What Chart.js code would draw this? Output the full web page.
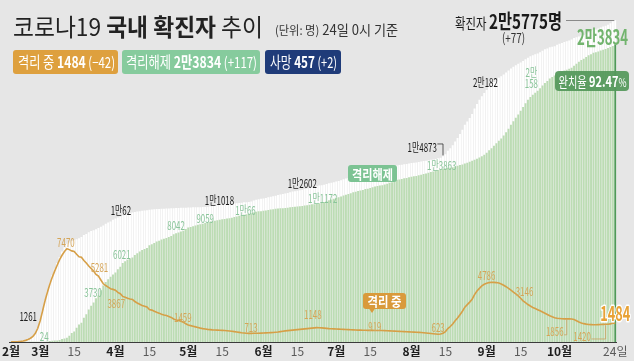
<!DOCTYPE html>
<html><head><meta charset="utf-8">
<script src="https://cdn.jsdelivr.net/npm/chart.js@4"></script>
<style>html,body{margin:0;padding:0;background:#e6e6e6;}canvas{display:block;}</style>
</head><body>
<canvas id="c" width="634" height="361"></canvas>
<script>
// ---- categories: one per day, 2020-02-18 .. 2020-10-24 ----
const categories = [];
(function(){ const d = new Date(2020,1,18), end = new Date(2020,9,24);
  while (d <= end) { categories.push((d.getMonth()+1)+'/'+d.getDate()); d.setDate(d.getDate()+1); } })();

// ---- series ----
const confirmed = [
 22,31,37,47,68,100,153,225,332,484,735,1140,
 1741,2552,3358,4073,4773,5350,5862,6330,6817,7251,7598,7869,7979,8086,8162,8236,8320,8413,8565,8652,8799,8897,8961,9037,9137,9241,9332,9478,9583,9661,9786,
 9887,9976,10062,10156,10237,10284,10331,10384,10423,10450,10480,10512,10537,10564,10591,10613,10635,10653,10661,10674,10683,10694,10702,10708,10718,10728,10738,10752,10761,10765,
 10774,10780,10793,10801,10804,10806,10810,10822,10840,10874,10909,10936,10962,10991,11018,11037,11050,11065,11078,11110,11122,11142,11165,11190,11206,11225,11265,11344,11402,11441,11468,
 11503,11541,11590,11629,11668,11719,11776,11814,11852,11902,11947,12003,12051,12085,12121,12155,12198,12257,12306,12373,12421,12438,12484,12535,12563,12602,12653,12715,12757,12800,
 12850,12904,12967,13030,13091,13137,13181,13244,13293,13338,13373,13417,13479,13512,13551,13612,13672,13711,13745,13771,13816,13879,13938,13979,14092,14150,14175,14203,14251,14269,14305,
 14336,14366,14389,14423,14456,14499,14519,14562,14598,14626,14660,14714,14770,14873,15039,15318,15515,15761,16058,16346,16670,17002,17399,17665,17945,18265,18706,19077,19400,19699,19947,
 20182,20449,20644,20842,21010,21177,21296,21432,21588,21743,21919,22055,22176,22285,22391,22504,22657,22783,22893,22975,23045,23106,23216,23341,23455,23516,23611,23661,23699,23812,
 23889,23952,24027,24091,24164,24239,24353,24422,24476,24548,24606,24703,24805,24889,24988,25035,25108,25199,25275,25333,25424,25543,25698,25775];
const recovered = [
 12,16,16,16,16,18,18,18,22,22,22,24,
 24,30,30,41,88,108,118,130,166,247,288,333,510,714,834,1137,1407,1540,1947,2233,2612,2909,3166,3507,3730,4144,4528,4811,5033,5228,5408,
 5567,5828,6021,6325,6463,6598,6694,6776,6973,7117,7243,7368,7447,7534,7757,7829,7937,8042,8114,8213,8277,8336,8411,8501,8635,8717,8764,8854,8922,9059,
 9166,9220,9283,9339,9390,9441,9484,9526,9574,9628,9683,9718,9753,9791,9828,9855,9888,9922,9955,10017,10058,10108,10159,10204,10239,10268,10306,10375,10433,10466,10485,
 10512,10540,10578,10606,10635,10666,10703,10708,10716,10736,10761,10796,10824,10838,10854,10867,10889,10927,10956,11003,11031,11040,11055,11114,11151,11210,11281,11363,11415,11468,
 11528,11591,11664,11737,11807,11862,11916,11989,12046,12096,12135,12184,12250,12288,12332,12393,12454,12495,12530,12556,12609,12682,12751,12801,12924,12992,13026,13063,13121,13148,13194,
 13235,13275,13307,13351,13394,13457,13495,13558,13614,13662,13715,13786,13825,13863,13901,13934,13970,14010,14058,14117,14175,14230,14300,14363,14440,14523,14600,14680,14785,14882,15001,
 15156,15360,15527,15728,15914,16116,16302,16536,16808,17088,17411,17693,17963,18218,18519,18827,19130,19399,19629,19817,19977,20123,20323,20546,20754,20914,21107,21235,21342,21502,
 21596,21677,21761,21818,21894,21978,22131,22297,22448,22596,22703,22839,22969,23060,23168,23214,23276,23355,23421,23467,23557,23640,23717,23834];
const isolated = [
 10,15,20,30,50,80,130,200,300,450,700,1100,
 1700,2500,3300,4000,4650,5200,5700,6150,6600,6950,7250,7470,7402,7300,7253,7024,6832,6789,6527,6325,6085,5884,5684,5410,5281,4966,4665,4523,4398,4275,4216,
 4155,3979,3867,3654,3591,3500,3445,3408,3246,3125,3026,2930,2873,2808,2609,2555,2468,2379,2313,2225,2169,2120,2051,1967,1843,1769,1731,1654,1593,1459,
 1360,1310,1260,1210,1160,1110,1070,1040,1010,990,970,960,950,940,930,920,900,880,860,830,800,770,740,720,700,690,690,700,700,705,713,
 720,730,740,750,760,780,800,830,860,890,910,930,950,970,990,1010,1030,1050,1070,1090,1110,1130,1148,1140,1130,1110,1090,1070,1060,1050,
 1040,1030,1020,1010,1000,990,980,970,960,955,950,945,940,935,930,928,925,922,920,919,910,900,890,880,870,860,850,840,830,820,810,
 800,790,780,770,760,740,720,700,680,660,640,623,640,705,833,1079,1240,1445,1694,1923,2188,2463,2790,2993,3195,3430,3793,4084,4299,4496,4622,
 4700,4760,4786,4780,4760,4720,4650,4550,4430,4300,4150,4000,3850,3700,3500,3300,3146,3000,2880,2770,2680,2590,2500,2400,2300,2200,2100,2020,1950,1900,
 1880,1860,1850,1856,1850,1840,1800,1700,1600,1520,1470,1430,1400,1390,1380,1380,1390,1400,1410,1420,1420,1452,1526,1484];

const monthTickNames = {1:'1월',2:'2월',3:'3월',4:'4월',5:'5월',6:'6월',7:'7월',8:'8월',9:'9월',10:'10월'};
const midTickMonths = [3,4,5,6,7,8,9];
const lastTickLabel = '24일';
const Y_MAX = 27000;

// value annotations: text, series, date, offsets
const valueLabels = [
 {t:'7470', s:'i', d:'3/12', dx:-1, dy:-6, k:'o'},
 {t:'5281', s:'i', d:'3/25', dx:1, dy:-8.5, k:'o'},
 {t:'3867', s:'i', d:'4/3', dx:-4, dy:10, k:'o'},
 {t:'1459', s:'i', d:'4/30', dx:-3, dy:-6, k:'o'},
 {t:'713', s:'i', d:'5/31', dx:-10, dy:-5.5, k:'o'},
 {t:'1148', s:'i', d:'6/23', dx:-4, dy:-13.5, k:'o'},
 {t:'919', s:'i', d:'7/20', dx:-7.5, dy:-4.5, k:'o'},
 {t:'623', s:'i', d:'8/12', dx:0, dy:-6.5, k:'o'},
 {t:'4786', s:'i', d:'9/3', dx:-5, dy:-6.5, k:'o'},
 {t:'3146', s:'i', d:'9/17', dx:-1, dy:-11.5, k:'o'},
 {t:'1856', s:'i', d:'10/4', dx:-12, dy:13, k:'o', br:true},
 {t:'1420', s:'i', d:'10/20', dx:-23.5, dy:11.7, k:'o', br:true},
 {t:'24', s:'r', d:'3/1', dx:4, dy:-5.7, k:'g'},
 {t:'3730', s:'r', d:'3/25', dx:-5.4, dy:-3, k:'g'},
 {t:'6021', s:'r', d:'4/3', dx:1.6, dy:-12, k:'g'},
 {t:'8042', s:'r', d:'4/26', dx:0, dy:-8, k:'g'},
 {t:'9059', s:'r', d:'5/8', dx:0, dy:-5, k:'g'},
 {t:'1만66', s:'r', d:'5/25', dx:-1, dy:-4, k:'g'},
 {t:'1만1172', s:'r', d:'6/26', dx:-1.4, dy:-4, k:'g'},
 {t:'1만3863', s:'r', d:'8/14', dx:-1.3, dy:-4, k:'g'},
 {t:'2만', s:'r', d:'9/19', dx:1, dy:-25, k:'g'},
 {t:'158', s:'r', d:'9/19', dx:1, dy:-14, k:'g'},
 {t:'1261', s:'c', d:'2/29', dx:-9.6, dy:-11.8, k:'b'},
 {t:'1만62', s:'c', d:'4/3', dx:0.6, dy:-6.4, k:'b'},
 {t:'1만1018', s:'c', d:'5/15', dx:-2.7, dy:-4.5, k:'b'},
 {t:'1만2602', s:'c', d:'6/17', dx:0, dy:-6.8, k:'b'},
 {t:'1만4873', s:'c', d:'8/14', dx:-20.8, dy:-9.4, k:'b', br:true},
 {t:'2만182', s:'c', d:'9/1', dx:-1.3, dy:-8, k:'b'}
];

const F = '"Noto Sans CJK KR","Noto Sans",sans-serif';
const COL = {o:'#d5a558', g:'#8ac59a', b:'#1a1a1a'};
const LAST = categories.length - 1;

function txt(ctx, s, x, y, o) {
  ctx.save(); ctx.font = o.font;
  const mw = ctx.measureText(s).width;
  const sx = o.w ? o.w / mw : (o.sx || 1);
  const W = mw * sx;
  const left = o.align === 'center' ? x - W/2 : (o.align === 'right' ? x - W : x);
  ctx.translate(left, y); ctx.scale(sx, 1);
  ctx.textAlign = 'left'; ctx.textBaseline = o.base || 'middle';
  if (o.stroke) { ctx.lineWidth = o.sw || 3; ctx.strokeStyle = o.stroke; ctx.lineJoin = 'round'; ctx.strokeText(s, 0, 0); }
  ctx.fillStyle = o.color; ctx.fillText(s, 0, 0);
  ctx.restore(); return W;
}
function runs(ctx, parts, x, y, width, color) {
  ctx.save(); let total = 0;
  parts.forEach(p => { ctx.font = p[1]; p.w = ctx.measureText(p[0]).width; total += p.w; });
  const s = width / total;
  ctx.translate(x, y); ctx.scale(s, 1); ctx.textAlign = 'left'; ctx.textBaseline = 'alphabetic';
  let cx = 0;
  parts.forEach(p => { ctx.font = p[1]; ctx.fillStyle = p[2] || color; ctx.fillText(p[0], cx, 0); cx += p.w; });
  ctx.restore();
}
function rrect(ctx, x, y, w, h, r, fill) {
  ctx.beginPath(); ctx.moveTo(x+r, y); ctx.lineTo(x+w-r, y); ctx.quadraticCurveTo(x+w, y, x+w, y+r);
  ctx.lineTo(x+w, y+h-r); ctx.quadraticCurveTo(x+w, y+h, x+w-r, y+h); ctx.lineTo(x+r, y+h);
  ctx.quadraticCurveTo(x, y+h, x, y+h-r); ctx.lineTo(x, y+r); ctx.quadraticCurveTo(x, y, x+r, y);
  ctx.closePath(); ctx.fillStyle = fill; ctx.fill();
}

const annotPlugin = {
  id: 'annot',
  beforeDraw(chart) { const c = chart.ctx; c.save(); c.fillStyle = '#e6e6e6'; c.fillRect(0, 0, chart.width, chart.height); c.restore(); },
  afterDraw(chart) {
    const ctx = chart.ctx, xs = chart.scales.x, ys = chart.scales.y;
    const series = {c: confirmed, r: recovered, i: isolated};
    const at = (s, d) => { const i = categories.indexOf(d); return {x: xs.getPixelForValue(i), y: ys.getPixelForValue(series[s][i])}; };

    // title
    runs(ctx, [['코로나19 ', '400 24px '+F], ['국내 확진자', '700 24px '+F], [' 추이', '400 24px '+F]], 13, 36, 250, '#222');
    runs(ctx, [['(단위: 명)', '400 12px '+F], [' 24일 0시 기준', '400 14px '+F]], 275, 35, 123, '#333');

    // legend boxes
    rrect(ctx, 13, 50, 105, 24, 3, '#dea03e');
    runs(ctx, [['격리 중 ', '400 16px '+F], ['1484', '700 16px '+F], [' (−42)', '400 15px '+F]], 18, 68, 97, '#fff');
    rrect(ctx, 122, 50, 138, 24, 3, '#86cb9d');
    runs(ctx, [['격리해제 ', '400 16px '+F], ['2만3834', '700 16px '+F], [' (+117)', '400 15px '+F]], 126, 68, 131, '#fff');
    rrect(ctx, 265, 50, 76, 24, 3, '#1f3b79');
    runs(ctx, [['사망 ', '400 16px '+F], ['457', '700 16px '+F], [' (+2)', '400 15px '+F]], 270, 68, 67, '#fff');

    // confirmed total, top right
    const top = at('c', categories[LAST]);
    runs(ctx, [['확진자 ', '400 15px '+F], ['2만5775명', '700 20px '+F]], 455, 29, 107, '#1a1a1a');
    txt(ctx, '(+77)', 513.5, 38.5, {font:'400 13px '+F, color:'#333', align:'center', w:23});
    ctx.save(); ctx.strokeStyle = '#8a8a8a'; ctx.lineWidth = 1; ctx.beginPath();
    ctx.moveTo(566, Math.round(top.y)+0.5); ctx.lineTo(top.x - 1, Math.round(top.y)+0.5); ctx.stroke(); ctx.restore();

    // recovered total
    const rtop = at('r', categories[LAST]);
    txt(ctx, '2만3834', rtop.x - 12.8, rtop.y - 7.5, {font:'700 21px '+F, color:'#72b46e', align:'center', w:51});
    rrect(ctx, 555, 71, 74, 20, 4, 'rgba(84,152,90,0.93)');
    runs(ctx, [['완치율 ', '400 14px '+F], ['92.47', '700 15px '+F], ['%', '400 12px '+F]], 558.5, 86.5, 68, '#fff');

    // callout boxes
    rrect(ctx, 348, 165, 49, 17, 3, '#7cc393');
    txt(ctx, '격리해제', 372.5, 173.8, {font:'700 13px '+F, color:'#fff', align:'center', w:41});
    rrect(ctx, 363, 293, 43, 16, 3, '#d99a3c');
    ctx.save(); ctx.fillStyle = '#d99a3c'; ctx.beginPath(); ctx.moveTo(369, 308.5); ctx.lineTo(375, 308.5); ctx.lineTo(372, 313); ctx.closePath(); ctx.fill(); ctx.restore();
    txt(ctx, '격리 중', 384.5, 301.3, {font:'700 13px '+F, color:'#fff', align:'center', w:34});

    // value labels
    valueLabels.forEach(L => {
      const p = at(L.s, L.d);
      const cx = p.x + L.dx, cy = p.y + L.dy;
      const W = txt(ctx, L.t, cx, cy, {font:'400 12px '+F, color:COL[L.k], align:'center', sx:0.66});
      if (L.br) {
        ctx.save(); ctx.strokeStyle = L.k === 'b' ? '#333' : '#c9a060'; ctx.lineWidth = 0.8; ctx.beginPath();
        const ex = cx + W/2 + 0.5;
        const by = L.k === 'b' ? cy - 3 : cy + 3;
        ctx.moveTo(ex, by); ctx.lineTo(p.x, by); ctx.lineTo(p.x, L.k === 'b' ? p.y - 1 : p.y + 1); ctx.stroke(); ctx.restore();
      }
    });
    // current isolated figure
    const ip = at('i', categories[LAST]);
    txt(ctx, '1484', ip.x, ip.y - 10, {font:'700 21px '+F, color:'#e8a236', align:'center', w:30, stroke:'#fff', sw:3});
  }
};

function tickLabel(i) {
  if (i === 0) return monthTickNames[2];
  if (i === LAST) return lastTickLabel;
  const [m, d] = categories[i].split('/').map(Number);
  if (d === 1) return monthTickNames[m];
  if (d === 15 && midTickMonths.includes(m)) return '15';
  return '';
}
const isMonthTick = i => { const t = tickLabel(i); return t.endsWith('월'); };

new Chart(document.getElementById('c'), {
  type: 'bar',
  data: {
    labels: categories,
    datasets: [
      {type:'line', label:'격리 중', data: isolated, borderColor:'#d69f47', borderWidth:1.6, pointRadius:0, tension:0, order:0},
      {label:'격리해제', data: recovered, grouped:false, order:1, barPercentage:0.8, categoryPercentage:1,
       backgroundColor: c => c.dataIndex === LAST ? '#4f9a58' : '#bcdcb4'},
      {label:'확진자', data: confirmed, grouped:false, order:2, barPercentage:0.8, categoryPercentage:1, backgroundColor:'#ffffff'}
    ]
  },
  options: {
    responsive:false, animation:false, devicePixelRatio:1,
    layout:{padding:{left:7.5, right:17.5, top:5, bottom:0.6}},
    plugins:{legend:{display:false}, tooltip:{enabled:false}},
    scales:{
      x:{z:1, grid:{display:false, drawTicks:false}, border:{display:true, color:'#3c3c3c', width:1},
         ticks:{autoSkip:false, maxRotation:0, minRotation:0, padding:2,
           callback:(v, i) => tickLabel(i),
           font: c => ({family:F, size:12, weight: isMonthTick(c.index) ? 'bold' : 'normal'}),
           color: c => isMonthTick(c.index) ? '#1e1e1e' : '#5a5a5a'}},
      y:{display:false, min:0, max:Y_MAX}
    }
  },
  plugins:[annotPlugin]
});
</script>
</body></html>
